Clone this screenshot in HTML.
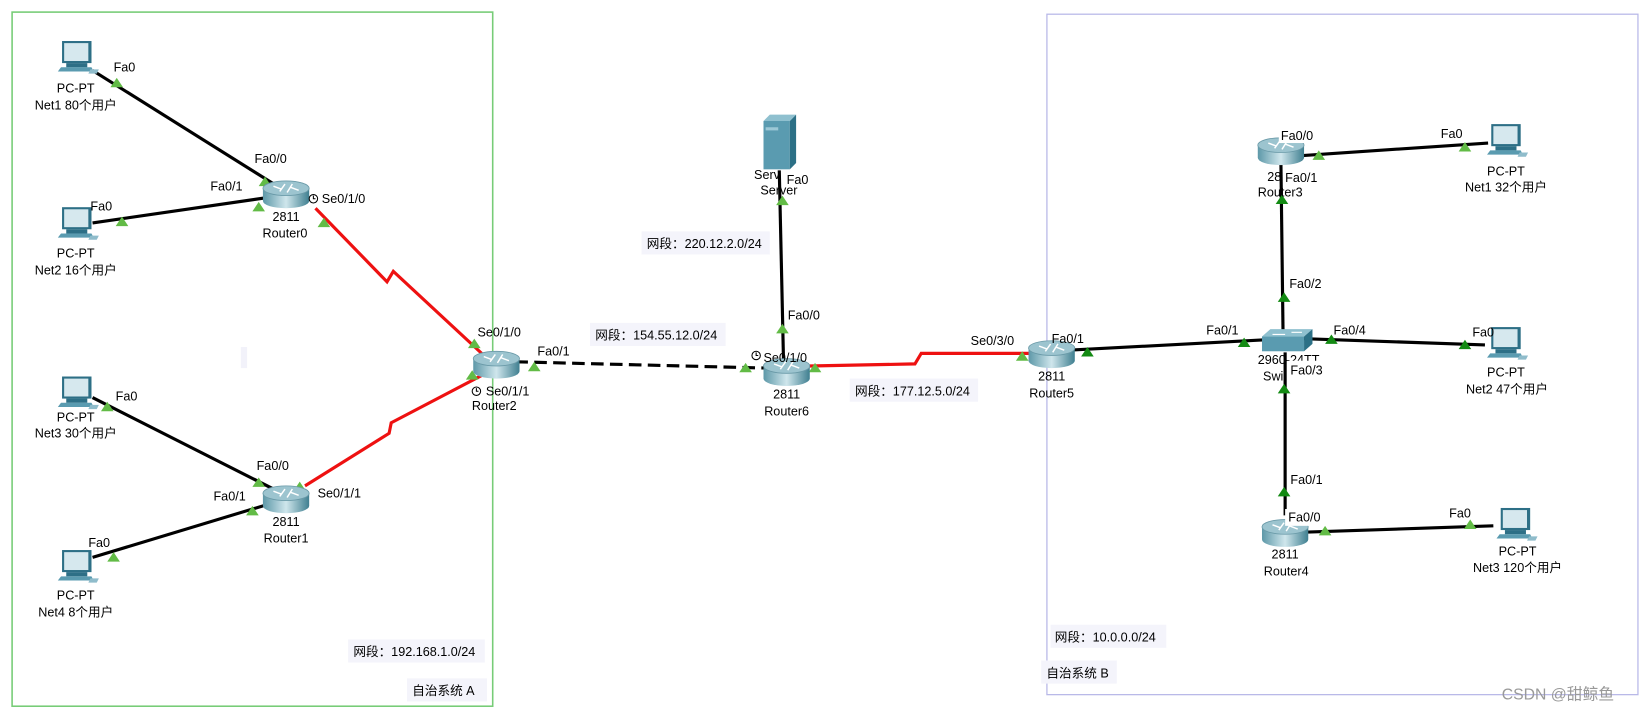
<!DOCTYPE html>
<html><head><meta charset="utf-8"><style>
html,body{margin:0;padding:0;background:#fff;}
svg{display:block;}
text{font-family:"Liberation Sans","Noto Sans CJK SC",sans-serif;font-size:12px;fill:#000;}
.c{text-anchor:middle;}
</style></head><body>
<svg width="1649" height="712" viewBox="0 0 1568 677" preserveAspectRatio="none" xmlns="http://www.w3.org/2000/svg">
<defs>
 <linearGradient id="rb" x1="0" y1="0" x2="1" y2="0">
  <stop offset="0" stop-color="#5d98a8"/><stop offset="0.5" stop-color="#cfe6ec"/><stop offset="1" stop-color="#3f7f90"/>
 </linearGradient>
 <g id="router">
  <path d="M-22,-4 L-22,8 A22,7 0 0 0 22,8 L22,-4 Z" fill="url(#rb)"/>
  <ellipse cx="0" cy="-4" rx="22" ry="7" fill="#9cc4cf" stroke="#6a9aa8" stroke-width="0.8"/>
  <path d="M-12,-6 L-4,-3 M12,-2 L4,-5 M-6,-1 L-1,-8 M6,-8 L1,0" stroke="#fff" stroke-width="1.4"/>
 </g>
 <g id="pc">
  <rect x="-13" y="-17" width="28" height="21" fill="#2d6f86"/>
  <rect x="-11" y="-15" width="23" height="17" fill="#d6e8ee"/>
  <rect x="-9" y="4" width="20" height="4" fill="#2d6f86"/>
  <path d="M-17,12 L17,12 L15,8 L-14,8 Z" fill="#5a9bb0"/>
  <path d="M14,10 L22,10 L20,14 L12,14 Z" fill="#8fbccb"/>
 </g>
 <path id="tri" d="M-6,4 L6,4 L0,-5 Z" fill="#62bb46"/>
 <path id="trd" d="M-6,4 L6,4 L0,-5 Z" fill="#138a13"/>
</defs>

<rect x="11.5" y="11.5" width="457" height="660" fill="none" stroke="#77cc77" stroke-width="1.5"/>
<rect x="995.5" y="13.5" width="562" height="647" fill="none" stroke="#b8b8e8" stroke-width="1.2"/>
<rect x="229" y="330" width="6" height="20" fill="#f2f2fa"/>

<g stroke="#000" stroke-width="3" fill="none">
 <line x1="88" y1="67" x2="262" y2="176"/>
 <line x1="88" y1="212" x2="260" y2="187"/>
 <line x1="88" y1="378" x2="262" y2="466"/>
 <line x1="88" y1="530" x2="260" y2="478"/>
 <line x1="490" y1="344" x2="730" y2="350" stroke-dasharray="12,6"/>
 <line x1="741" y1="162" x2="745" y2="342"/>
 <line x1="1016" y1="333" x2="1205" y2="323"/>
 <line x1="1218" y1="155" x2="1220" y2="315"/>
 <line x1="1237" y1="148" x2="1415" y2="136"/>
 <line x1="1240" y1="322" x2="1412" y2="328"/>
 <line x1="1222" y1="335" x2="1222" y2="490"/>
 <line x1="1240" y1="506" x2="1420" y2="500"/>
</g>
<g stroke="#ee1111" stroke-width="3" fill="none">
 <polyline points="300,198 368,268 374,258 458,336"/>
 <polyline points="290,462 370,412 372,402 458,357"/>
 <polyline points="770,348 870,346 876,336 985,336"/>
</g>

<use href="#tri" x="111" y="79"/><use href="#tri" x="252" y="173"/><use href="#tri" x="246" y="197"/><use href="#tri" x="116" y="211"/>
<use href="#tri" x="308" y="212"/><use href="#tri" x="451" y="327"/><use href="#tri" x="449" y="357"/><use href="#tri" x="508" y="349"/>
<use href="#tri" x="102" y="387"/><use href="#tri" x="246" y="459"/><use href="#tri" x="240" y="486"/><use href="#tri" x="108" y="530"/>
<use href="#tri" x="285" y="463"/><use href="#tri" x="709" y="350"/><use href="#tri" x="775" y="350"/>
<use href="#tri" x="744" y="313"/><use href="#tri" x="744" y="191"/><use href="#tri" x="972" y="339"/>
<use href="#tri" x="1254" y="148"/><use href="#tri" x="1393" y="140"/><use href="#tri" x="1260" y="505"/><use href="#tri" x="1398" y="499"/>
<use href="#trd" x="1034" y="335"/><use href="#trd" x="1183" y="326"/><use href="#trd" x="1221" y="283"/><use href="#trd" x="1266" y="323"/>
<use href="#trd" x="1393" y="328"/><use href="#trd" x="1221" y="370"/><use href="#trd" x="1221" y="468"/><use href="#trd" x="1219" y="190"/>

<use href="#pc" x="72" y="56"/><use href="#pc" x="72" y="214"/><use href="#pc" x="72" y="375"/><use href="#pc" x="72" y="540"/>
<use href="#pc" x="1431" y="135"/><use href="#pc" x="1431" y="328"/><use href="#pc" x="1440" y="500"/>
<use href="#router" x="272" y="183"/><use href="#router" x="272" y="473"/><use href="#router" x="472" y="345"/>
<use href="#router" x="748" y="352"/><use href="#router" x="1000" y="335"/><use href="#router" x="1218" y="142"/><use href="#router" x="1222" y="505"/>
<rect x="726" y="115" width="25" height="46" fill="#5a9bb0"/>
<path d="M751,115 L757,109 L757,155 L751,161 Z" fill="#2c7086"/>
<path d="M726,115 L732,109 L757,109 L751,115 Z" fill="#8fc0cf"/>
<rect x="728" y="121" width="12" height="3" fill="#9cc8d6"/>
<path d="M1200,320 L1208,313 L1248,313 L1240,320 Z" fill="#8fc0cf"/>
<rect x="1200" y="320" width="40" height="14" fill="#5a9bb0"/>
<path d="M1240,320 L1248,313 L1248,327 L1240,334 Z" fill="#2c7086"/>
<path d="M1210,318 L1222,318 M1228,316 L1238,316" stroke="#fff" stroke-width="1"/>

<g fill="none" stroke="#000" stroke-width="1">
 <circle cx="298" cy="189" r="4"/><path d="M298,186 L298,189 L300,189"/>
 <circle cx="453" cy="372" r="4"/><path d="M453,369 L453,372 L455,372"/>
 <circle cx="719" cy="338" r="4"/><path d="M719,335 L719,338 L721,338"/>
</g>

<text class="c" x="72" y="88">PC-PT</text><text class="c" x="72" y="104">Net1 80个用户</text>
<text x="108" y="68">Fa0</text><text x="242" y="155">Fa0/0</text><text x="200" y="181">Fa0/1</text>
<text x="86" y="200">Fa0</text><text x="306" y="193">Se0/1/0</text>
<text class="c" x="272" y="210">2811</text><text class="c" x="271" y="226">Router0</text>
<text class="c" x="72" y="245">PC-PT</text><text class="c" x="72" y="261">Net2 16个用户</text>
<text class="c" x="72" y="401">PC-PT</text><text class="c" x="72" y="416">Net3 30个用户</text>
<text x="110" y="381">Fa0</text><text x="244" y="447">Fa0/0</text><text x="203" y="476">Fa0/1</text>
<text x="302" y="473">Se0/1/1</text>
<text class="c" x="272" y="500">2811</text><text class="c" x="272" y="516">Router1</text>
<text x="84" y="520">Fa0</text>
<text class="c" x="72" y="570">PC-PT</text><text class="c" x="72" y="586">Net4 8个用户</text>
<text x="454" y="320">Se0/1/0</text><text x="511" y="338">Fa0/1</text>
<text x="462" y="376">Se0/1/1</text><text class="c" x="470" y="390">Router2</text>
<text x="726" y="344">Se0/1/0</text><text x="749" y="304">Fa0/0</text>
<text class="c" x="748" y="379">2811</text><text class="c" x="748" y="395">Router6</text>
<text x="717" y="170">Serv</text><text x="723" y="185">Server</text>
<rect x="746" y="162" width="26" height="16" fill="#fff"/><text x="748" y="175">Fa0</text>
<text x="923" y="328">Se0/3/0</text><text x="1000" y="326">Fa0/1</text>
<text class="c" x="1000" y="362">2811</text><text class="c" x="1000" y="378">Router5</text>
<text x="1147" y="318">Fa0/1</text><text x="1268" y="318">Fa0/4</text><text x="1226" y="274">Fa0/2</text>
<text x="1196" y="346">2960-24TT</text><text x="1201" y="362">Swi</text>
<rect x="1224" y="343" width="36" height="16" fill="#fff"/><text x="1227" y="356">Fa0/3</text>
<text x="1205" y="172">28</text><text x="1196" y="187">Router3</text>
<rect x="1216" y="120" width="36" height="16" fill="#fff"/><text x="1218" y="133">Fa0/0</text>
<rect x="1220" y="160" width="36" height="16" fill="#fff"/><text x="1222" y="173">Fa0/1</text>
<text x="1370" y="131">Fa0</text><text class="c" x="1432" y="167">PC-PT</text><text class="c" x="1432" y="182">Net1 32个用户</text>
<text x="1400" y="320">Fa0</text><text class="c" x="1432" y="358">PC-PT</text><text class="c" x="1433" y="374">Net2 47个用户</text>
<text x="1227" y="460">Fa0/1</text>
<rect x="1222" y="484" width="36" height="16" fill="#fff"/><text x="1225" y="496">Fa0/0</text>
<text class="c" x="1222" y="531">2811</text><text class="c" x="1223" y="547">Router4</text>
<text x="1378" y="492">Fa0</text><text class="c" x="1443" y="528">PC-PT</text><text class="c" x="1443" y="544">Net3 120个用户</text>

<g fill="#f4f4fb">
 <rect x="331" y="608" width="130" height="22"/><rect x="387" y="645" width="76" height="22"/>
 <rect x="610" y="220" width="122" height="22"/><rect x="561" y="307" width="129" height="22"/>
 <rect x="808" y="360" width="122" height="22"/><rect x="999" y="594" width="110" height="22"/>
 <rect x="990" y="628" width="72" height="22"/>
</g>
<text x="336" y="624">网段：192.168.1.0/24</text><text x="392" y="661">自治系统 A</text>
<text x="615" y="236">网段：220.12.2.0/24</text><text x="566" y="323">网段：154.55.12.0/24</text>
<text x="813" y="376">网段：177.12.5.0/24</text><text x="1003" y="610">网段：10.0.0.0/24</text>
<text x="995" y="644">自治系统 B</text>
<text x="1428" y="665" style="font-size:15px;fill:#999">CSDN @甜鲸鱼</text>
</svg>
</body></html>
